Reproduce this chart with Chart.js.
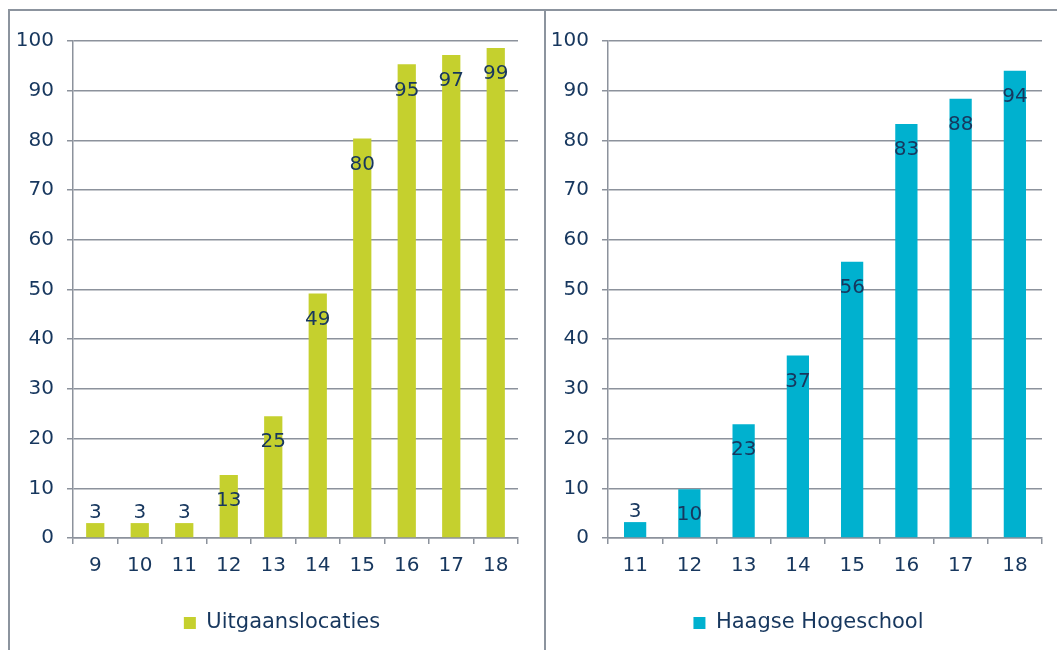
<!DOCTYPE html>
<html>
<head>
<meta charset="utf-8">
<script src="https://cdn.jsdelivr.net/npm/chart.js@4.4.0/dist/chart.umd.min.js"></script>
<style>
  body { margin: 0; background: #fff; width: 1057px; height: 650px; overflow: hidden; position: relative; }
  .frame { position: absolute; left: 8px; top: 9px; width: 1100px; height: 700px;
           border-top: 2px solid #8c949e; border-left: 2px solid #8c949e; }
  .divider { position: absolute; left: 544px; top: 9px; width: 2px; height: 700px; background: #8c949e; }
  .box { position: absolute; top: 12px; height: 638px; }
  #leftBox { left: 10px; width: 534px; }
  #rightBox { left: 547px; width: 510px; }
</style>
</head>
<body>
<div class="frame"></div>
<div class="divider"></div>
<div class="box" id="leftBox"><canvas id="leftChart"></canvas></div>
<div class="box" id="rightBox"><canvas id="rightChart"></canvas></div>

<script>
// ----------------------------
// DATA
// ----------------------------
const leftLabels = ["9", "10", "11", "12", "13", "14", "15", "16", "17", "18"];
const leftValues = [3, 3, 3, 12.7, 24.5, 49.2, 80.4, 95.3, 97.2, 98.6];
const leftName = "Uitgaanslocaties";

const rightLabels = ["11", "12", "13", "14", "15", "16", "17", "18"];
const rightValues = [3.2, 9.8, 22.9, 36.7, 55.6, 83.3, 88.4, 94];
const rightName = "Haagse Hogeschool";

const yTicks = [0, 10, 20, 30, 40, 50, 60, 70, 80, 90, 100];

// ----------------------------
// STYLE
// ----------------------------
const textColor = "#17375e";
const gridColor = "#8c929c";
const fontFamily = "'DejaVu Sans', Verdana, sans-serif";

// value labels: inside the bar top, or above when the bar is short
const valueLabels = {
  id: "valueLabels",
  afterDatasetsDraw(chart) {
    const ctx = chart.ctx;
    const meta = chart.getDatasetMeta(0);
    const values = chart.data.datasets[0].data;
    ctx.save();
    ctx.font = "20px " + fontFamily;
    ctx.fillStyle = textColor;
    ctx.textAlign = "center";
    ctx.textBaseline = "middle";
    meta.data.forEach((bar, i) => {
      const h = bar.base - bar.y;
      const ty = h > 30 ? bar.y + 26 : bar.y - 10;
      ctx.fillText(String(Math.round(values[i])), bar.x, ty);
    });
    ctx.restore();
  },
};

// nudge the legend sideways after layout (it sits a bit right of center)
function legendShift(dx) {
  return {
    id: "legendShift",
    afterLayout(chart) {
      if (chart.legend) {
        chart.legend.left += dx;
        chart.legend.right += dx;
      }
    },
  };
}

function makeChart(canvasId, labels, values, name, color, axisX, padRight, dx) {
  return new Chart(document.getElementById(canvasId), {
    type: "bar",
    data: {
      labels: labels,
      datasets: [{
        label: name,
        data: values,
        backgroundColor: color,
        borderWidth: 0,
        barPercentage: 0.82,
        categoryPercentage: 0.5,
      }],
    },
    options: {
      responsive: true,
      maintainAspectRatio: false,
      animation: false,
      events: [],
      layout: { padding: { top: 29, right: padRight, bottom: 6.5, left: 0 } },
      plugins: {
        tooltip: { enabled: false },
        legend: {
          position: "bottom",
          labels: {
            color: textColor,
            font: { family: fontFamily, size: 21 },
            boxWidth: 12,
            boxHeight: 12,
            padding: 10,
          },
        },
      },
      scales: {
        x: {
          afterFit: (s) => { s.height = 64.5; },
          grid: {
            offset: true,
            drawOnChartArea: false,
            drawTicks: true,
            tickLength: 6,
            color: gridColor,
            lineWidth: 1.5,
          },
          border: { color: gridColor, width: 1.5 },
          ticks: {
            color: textColor,
            font: { family: fontFamily, size: 20 },
            padding: 10,
            maxRotation: 0,
          },
        },
        y: {
          min: 0,
          max: 100,
          afterFit: (s) => { s.width = axisX; },
          afterBuildTicks: (s) => { s.ticks = yTicks.map((v) => ({ value: v })); },
          grid: {
            color: gridColor,
            lineWidth: 1.5,
            tickLength: 6,
          },
          border: { color: gridColor, width: 1.5 },
          ticks: {
            color: textColor,
            font: { family: fontFamily, size: 20 },
            padding: 13,
          },
        },
      },
    },
    plugins: [valueLabels, legendShift(dx)],
  });
}

makeChart("leftChart", leftLabels, leftValues, leftName, "#c5d02e", 63, 26, 18);
makeChart("rightChart", rightLabels, rightValues, rightName, "#00b1cf", 61, 15, 14);
</script>
</body>
</html>
